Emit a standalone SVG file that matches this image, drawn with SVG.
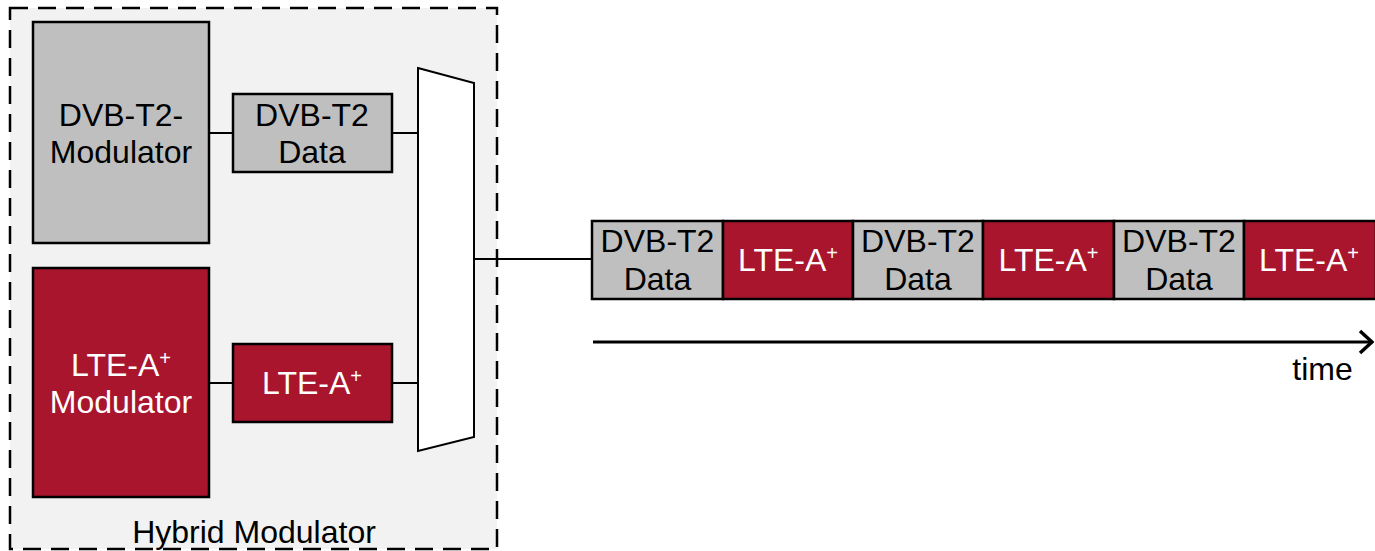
<svg xmlns="http://www.w3.org/2000/svg" width="1375" height="551" viewBox="0 0 1375 551">
  <style>
    text { font-family: "Liberation Sans", Arial, sans-serif; font-size: 32px; text-anchor: middle; }
    .dark { fill: #000; }
    .light { fill: #fff; }
    .gray { fill: #bfbfbf; stroke: #000; stroke-width: 2.5; }
    .red { fill: #a8152d; stroke: #000; stroke-width: 2.5; }
    .wire { stroke: #000; stroke-width: 2; fill: none; }
    .sup { font-size: 20px; }
  </style>
  <defs>
    <marker id="chevron" viewBox="0 0 16 26" refX="14" refY="13" markerWidth="16" markerHeight="26" markerUnits="userSpaceOnUse" orient="auto">
      <path d="M2,2 L14,13 L2,24" fill="none" stroke="#000" stroke-width="3.5"/>
    </marker>
  </defs>

  <!-- hybrid modulator enclosure -->
  <g id="hybrid-modulator">
    <rect x="10" y="8" width="487" height="541" fill="#f2f2f2" stroke="#000" stroke-width="2.5" stroke-dasharray="18 10"/>
    <text x="254" y="543" class="dark">Hybrid Modulator</text>
  </g>

  <!-- connectors -->
  <g id="connectors" class="wire">
    <line x1="209" y1="133" x2="233" y2="133"/>
    <line x1="392" y1="133" x2="418" y2="133"/>
    <line x1="209" y1="383" x2="233" y2="383"/>
    <line x1="392" y1="383" x2="418" y2="383"/>
    <line x1="474" y1="259" x2="593" y2="259"/>
    <line x1="593" y1="342" x2="1372" y2="342" stroke-width="3" marker-end="url(#chevron)"/>
  </g>

  <g id="dvb-modulator">
    <rect x="33" y="22" width="176" height="221" class="gray"/>
    <text x="121" y="126" class="dark">DVB-T2-</text>
    <text x="121" y="163" class="dark">Modulator</text>
  </g>

  <g id="dvb-data">
    <rect x="233" y="94" width="159" height="78" class="gray"/>
    <text x="312" y="126" class="dark">DVB-T2</text>
    <text x="312" y="163" class="dark">Data</text>
  </g>

  <g id="lte-modulator">
    <rect x="33" y="268" width="176" height="229" class="red"/>
    <text x="121" y="376" class="light">LTE-A<tspan class="sup" dy="-11">+</tspan></text>
    <text x="121" y="413" class="light">Modulator</text>
  </g>

  <g id="lte-data">
    <rect x="233" y="344" width="159" height="78" class="red"/>
    <text x="312" y="394" class="light">LTE-A<tspan class="sup" dy="-11">+</tspan></text>
  </g>

  <g id="multiplexer">
    <polygon points="418,68 474,83 474,437 418,451" fill="#fff" stroke="#000" stroke-width="2"/>
  </g>

  <!-- time-multiplexed frame sequence -->
  <g id="frame-1">
    <rect x="592" y="221" width="131" height="78" class="gray"/>
    <text x="657.5" y="252" class="dark">DVB-T2</text>
    <text x="657.5" y="290" class="dark">Data</text>
  </g>
  <g id="frame-2">
    <rect x="723" y="221" width="130" height="78" class="red"/>
    <text x="788" y="271" class="light">LTE-A<tspan class="sup" dy="-11">+</tspan></text>
  </g>
  <g id="frame-3">
    <rect x="853" y="221" width="130" height="78" class="gray"/>
    <text x="918" y="252" class="dark">DVB-T2</text>
    <text x="918" y="290" class="dark">Data</text>
  </g>
  <g id="frame-4">
    <rect x="983" y="221" width="131" height="78" class="red"/>
    <text x="1048.5" y="271" class="light">LTE-A<tspan class="sup" dy="-11">+</tspan></text>
  </g>
  <g id="frame-5">
    <rect x="1114" y="221" width="130" height="78" class="gray"/>
    <text x="1179" y="252" class="dark">DVB-T2</text>
    <text x="1179" y="290" class="dark">Data</text>
  </g>
  <g id="frame-6">
    <rect x="1244" y="221" width="132" height="78" class="red"/>
    <text x="1309" y="271" class="light">LTE-A<tspan class="sup" dy="-11">+</tspan></text>
  </g>

  <g id="time-label">
    <text x="1322.5" y="380" class="dark" font-size="31">time</text>
  </g>
</svg>
